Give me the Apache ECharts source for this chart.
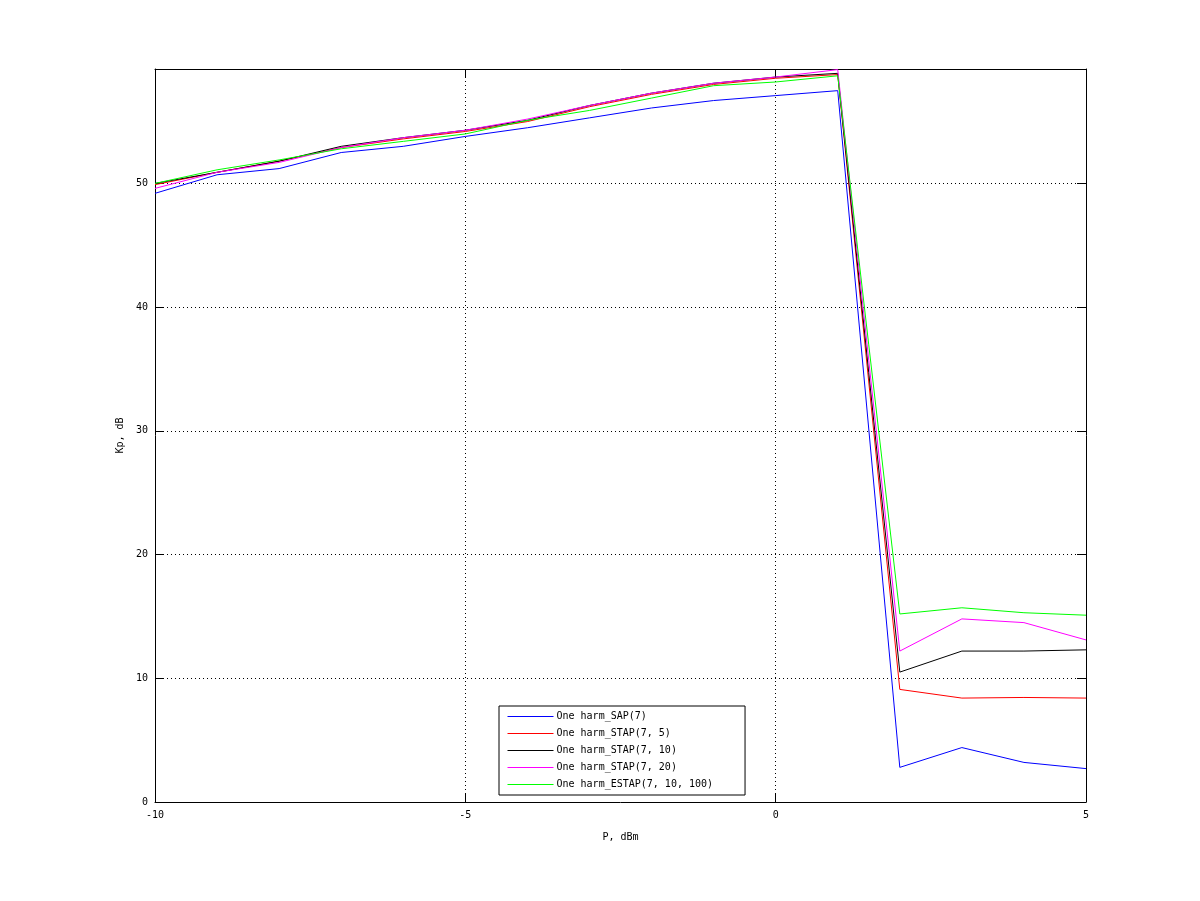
<!DOCTYPE html>
<html><head><meta charset="utf-8">
<script src="https://cdn.jsdelivr.net/npm/echarts@6/dist/echarts.min.js"></script>
<style>html,body{margin:0;padding:0;background:#fff}#c{width:1200px;height:901px}</style>
</head><body><div id="c"></div>
<script>
const xValues = [-10,-9,-8,-7,-6,-5,-4,-3,-2,-1,0,1,2,3,4,5];
const sapValues   = [49.2,50.7,51.2,52.5,53.0,53.8,54.5,55.3,56.1,56.7,57.1,57.5,2.8,4.4,3.2,2.7];
const stap5Values = [49.9,50.9,51.8,52.9,53.6,54.2,55.0,56.2,57.2,58.0,58.5,58.8,9.1,8.4,8.45,8.4];
const stap10Values= [50.0,50.9,51.8,53.0,53.7,54.3,55.1,56.3,57.3,58.1,58.6,58.9,10.5,12.2,12.2,12.3];
const stap20Values= [49.6,50.9,51.7,52.9,53.7,54.3,55.2,56.3,57.3,58.1,58.6,59.2,12.2,14.8,14.5,13.1];
const estapValues = [50.0,51.1,51.9,52.8,53.4,54.0,55.1,55.9,56.9,57.9,58.2,58.7,15.2,15.7,15.3,15.1];
const seriesNames = ['One harm_SAP(7)','One harm_STAP(7, 5)','One harm_STAP(7, 10)','One harm_STAP(7, 20)','One harm_ESTAP(7, 10, 100)'];
const seriesColors = ['#0000ff','#ff0000','#000000','#ff00ff','#00ff00'];
const seriesData = [sapValues, stap5Values, stap10Values, stap20Values, estapValues];

const font = 'DejaVu Sans Mono';
const chart = echarts.init(document.getElementById('c'), null, {renderer:'canvas'});
const axisCommon = {
  axisLine:{show:true,onZero:false,lineStyle:{color:'#000',width:1}},
  axisTick:{show:true,inside:true,length:9,lineStyle:{color:'#000'}},
};
chart.setOption({
  animation:false,
  backgroundColor:'#fff',
  grid:{left:155,right:114,top:69,bottom:99,containLabel:false},
  legend:{
    orient:'vertical', left:499, top:706,
    padding:[4,32,4,8], itemGap:4, itemWidth:46, itemHeight:13,
    borderColor:'#000', borderWidth:1, backgroundColor:'#fff',
    itemStyle:{opacity:0},
    lineStyle:{width:1},
    textStyle:{fontFamily:font,fontSize:10,color:'#000',lineHeight:13,padding:[0,0,0,-2]},
    data: seriesNames
  },
  xAxis:[{
    type:'value', min:-10, max:5, interval:5, position:'bottom',
    name:'P, dBm', nameLocation:'middle', nameGap:30,
    nameTextStyle:{fontFamily:font,fontSize:10,color:'#000'},
    ...axisCommon,
    axisLabel:{fontFamily:font,fontSize:10,color:'#000',margin:8},
    splitLine:{show:true,lineStyle:{color:'#000',type:[1,3],width:1}}
  },{
    type:'value', min:-10, max:5, interval:5, position:'top',
    ...axisCommon, axisLabel:{show:false}, splitLine:{show:false}
  }],
  yAxis:[{
    type:'value', min:0, max:59.25, interval:10, position:'left',
    name:'Kp, dB', nameLocation:'middle', nameGap:29, nameRotate:90,
    nameTextStyle:{fontFamily:font,fontSize:10,color:'#000'},
    ...axisCommon,
    axisLabel:{fontFamily:font,fontSize:10,color:'#000',margin:7,showMaxLabel:false},
    splitLine:{show:true,lineStyle:{color:'#000',type:[1,3],width:1}}
  },{
    type:'value', min:0, max:59.25, interval:10, position:'right',
    ...axisCommon, axisLabel:{show:false}, splitLine:{show:false}
  }],
  series: seriesData.map((vals,i)=>({
    name:seriesNames[i], type:'line', showSymbol:false, symbol:'none',
    lineStyle:{color:seriesColors[i],width:1}, itemStyle:{color:seriesColors[i]},
    data: xValues.map((x,j)=>[x, vals[j]]), z:2+i, silent:true
  }))
});
</script></body></html>
